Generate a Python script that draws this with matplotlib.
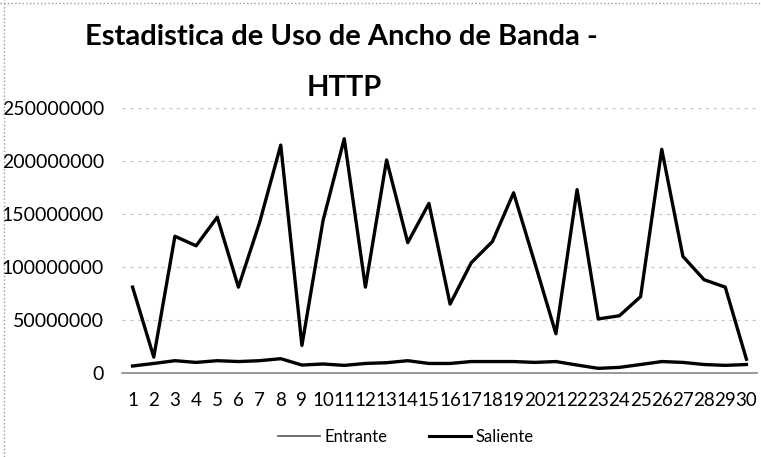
import matplotlib.pyplot as plt
from matplotlib.lines import Line2D

dias = [str(d) for d in range(1, 31)]
entrante = [81e6, 15e6, 129e6, 120e6, 147e6, 81e6, 142e6, 215e6, 26e6, 144e6,
            221e6, 81e6, 201e6, 123e6, 160e6, 65e6, 104e6, 124e6, 170e6, 104e6,
            37e6, 173e6, 51e6, 54e6, 72e6, 211e6, 110e6, 88e6, 81e6, 13e6]
saliente = [6.6e6, 9e6, 11.6e6, 10e6, 11.6e6, 10.8e6, 11.6e6, 13.5e6, 7.5e6, 8.5e6,
            7.2e6, 9e6, 9.7e6, 11.6e6, 9e6, 9e6, 10.8e6, 10.8e6, 10.8e6, 10e6,
            10.8e6, 7.5e6, 4.4e6, 5.3e6, 8e6, 10.8e6, 10e6, 8e6, 7.2e6, 8e6]
yticks = [0, 50000000, 100000000, 150000000, 200000000, 250000000]

plt.rcParams['font.family'] = ['Lato', 'DejaVu Sans']

fig = plt.figure(figsize=(7.61, 4.57), dpi=100)
ax = fig.add_axes([122 / 761, 1 - 373 / 457, (757 - 122) / 761, (373 - 108) / 457])

x = list(range(len(dias)))
ax.plot(x, entrante, color='black', lw=2.4, label='Entrante')
ax.plot(x, saliente, color='black', lw=2.4, label='Saliente')

ax.set_xlim(-0.5, len(dias) - 0.5)
ax.set_ylim(0, 250000000)
ax.set_yticks(yticks)
ax.set_yticklabels([str(v) for v in yticks], fontsize=14)
ax.set_xticks(x)
ax.set_xticklabels(dias, fontsize=13.5)
ax.tick_params(length=0, axis='y', pad=13)
ax.tick_params(length=0, axis='x', pad=14)
ax.grid(axis='y', color='#c4c4c4', lw=0.8, ls=(0, (3, 4)))
ax.set_axisbelow(True)
for s in ['top', 'right', 'left']:
    ax.spines[s].set_visible(False)
ax.spines['bottom'].set_color('#888888')
ax.spines['bottom'].set_linewidth(1.2)

fig.text(0.448, 1 - 37 / 457, 'Estadistica de Uso de Ancho de Banda -',
         ha='center', va='center', fontsize=21, fontweight='bold')
fig.text(0.452, 1 - 88 / 457, 'HTTP', ha='center', va='center',
         fontsize=21, fontweight='bold')

handles = [Line2D([], [], color='#555555', lw=1.2), Line2D([], [], color='black', lw=2.2)]
fig.legend(handles, ['Entrante', 'Saliente'], loc='center', bbox_to_anchor=(406 / 761, 1 - 437 / 457),
           ncol=2, frameon=False, fontsize=12, handlelength=2.5, columnspacing=2.5, handletextpad=0.3)

# marco del grafico
fig.add_artist(Line2D([4 / 761, 4 / 761], [0, 1], color='#999999', lw=1, ls=':'))
fig.add_artist(Line2D([0, 1], [1 - 3 / 457, 1 - 3 / 457], color='#999999', lw=1, ls=':'))

fig.savefig('out.png', dpi=100)
